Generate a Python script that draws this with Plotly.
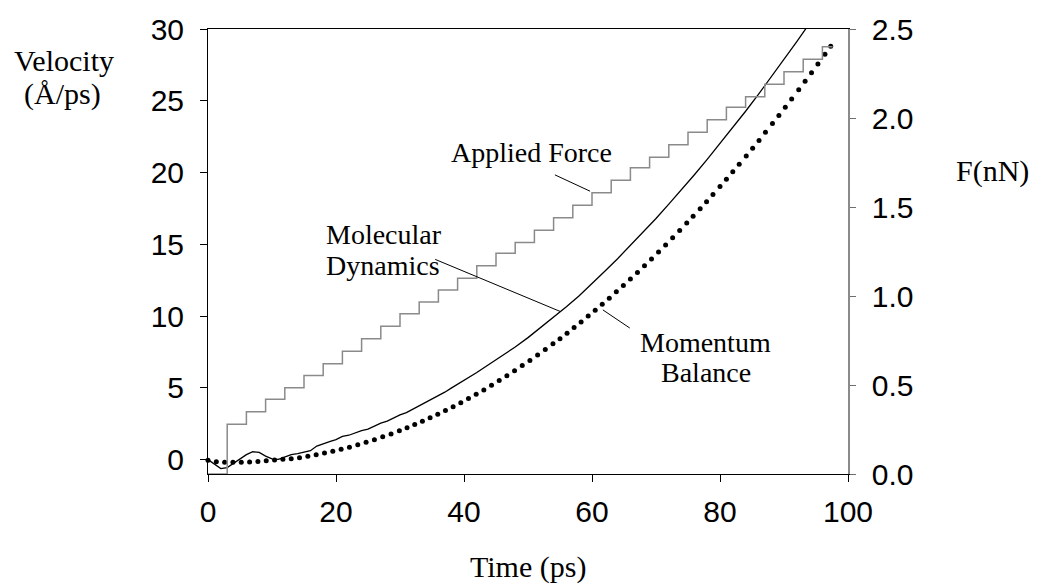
import plotly.graph_objects as go

# ---------------- data ----------------
# Applied force (nN), step function, right axis
force_time = [0, 3, 6, 9, 12, 15, 18, 21, 24, 27, 30, 33, 36, 39, 42, 45, 48,
              51, 54, 57, 60, 63, 66, 69, 72, 75, 78, 81, 84, 87, 90, 93, 96, 97.6]
force_nN = [0.0, 0.28, 0.35, 0.42, 0.485, 0.553, 0.62, 0.69, 0.76, 0.83, 0.90,
            0.966, 1.034, 1.10, 1.17, 1.24, 1.30, 1.37, 1.44, 1.51, 1.58, 1.65,
            1.72, 1.78, 1.85, 1.92, 1.99, 2.06, 2.12, 2.19, 2.26, 2.33, 2.40, 2.40]

# Molecular dynamics velocity (A/ps), left axis
md_time = [0, 1, 2, 3, 4, 5, 6, 7, 8, 9, 10, 11, 12, 13, 14, 15, 16, 17, 18, 19,
           20, 21, 22, 23, 24, 25, 26, 27, 28, 29, 30, 31, 32, 33, 34, 35, 36, 37,
           38, 39, 40, 42, 44, 46, 48, 50, 52, 54, 56, 58, 60, 62, 64, 66, 68, 70,
           72, 74, 76, 78, 80, 82, 84, 86, 88, 90, 92, 94]
md_velocity = [0.0, -0.3, -0.62, -0.55, -0.25, 0.05, 0.35, 0.55, 0.5, 0.25, 0.05,
               0.02, 0.2, 0.35, 0.42, 0.5, 0.62, 0.95, 1.12, 1.25, 1.4, 1.62, 1.7,
               1.88, 2.02, 2.12, 2.35, 2.55, 2.68, 2.9, 3.12, 3.28, 3.52, 3.75, 3.98,
               4.2, 4.45, 4.7, 4.98, 5.25, 5.5, 6.07, 6.66, 7.25, 7.85, 8.5, 9.2,
               9.92, 10.65, 11.42, 12.25, 13.12, 14.0, 14.92, 15.85, 16.8, 17.8,
               18.8, 19.85, 20.92, 22.02, 23.13, 24.27, 25.44, 26.64, 27.86, 29.12,
               30.4]

# Momentum balance velocity (A/ps), left axis
mb_time = [0, 1.3, 2.6, 3.9, 5.2, 6.5, 7.8, 9.1, 10.4, 11.7, 13.0, 14.3, 15.6,
           16.9, 18.2, 19.5, 20.8, 22.1, 23.4, 24.7, 26.0, 27.3, 28.6, 29.9,
           31.1, 32.3, 33.5, 34.7, 35.9, 37.1, 38.3, 39.5, 40.7, 41.9, 43.1, 44.3,
           45.5, 46.7, 47.9, 49.1, 50.3, 51.5, 52.7, 53.9,
           55.0, 56.1, 57.2, 58.3, 59.4, 60.5, 61.6, 62.7, 63.8, 64.9, 66.0, 67.1,
           68.2, 69.3, 70.4, 71.5, 72.6, 73.7, 74.8,
           75.8, 76.9, 77.9, 78.9, 80.0, 81.0, 82.0, 83.0, 84.1, 85.1, 86.1, 87.1,
           88.2, 89.2, 90.2, 91.2, 92.3, 93.3, 94.3, 95.3, 96.4, 97.3]
mb_velocity = [-0.05, -0.14, -0.18, -0.19, -0.18, -0.16, -0.13, -0.08, -0.03, 0.02,
               0.07, 0.14, 0.23, 0.34, 0.46, 0.58, 0.72, 0.87, 1.03, 1.21, 1.39,
               1.59, 1.79, 2.01,
               2.22, 2.44, 2.67, 2.91, 3.16, 3.42, 3.69, 3.97, 4.26, 4.56, 4.86,
               5.18, 5.51, 5.84, 6.19, 6.55, 6.91, 7.29, 7.67, 8.07,
               8.43, 8.81, 9.20, 9.59, 10.00, 10.41, 10.82, 11.25, 11.69, 12.13,
               12.58, 13.04, 13.51, 13.98, 14.46, 14.96, 15.45, 15.96, 16.48,
               16.95, 17.48, 17.97, 18.47, 19.03, 19.54, 20.05, 20.58, 21.16, 21.70,
               22.24, 22.80, 23.41, 23.98, 24.55, 25.13, 25.77, 26.36, 26.96, 27.57,
               28.24, 28.80]

x_ticks = [0, 20, 40, 60, 80, 100]
v_ticks = [0, 5, 10, 15, 20, 25, 30]
f_ticks = [0.0, 0.5, 1.0, 1.5, 2.0, 2.5]

# ---------------- figure ----------------
W, H = 1038, 584
L, R, T, B = 208, 190, 24, 110

SERIF = "Liberation Serif, Times New Roman, serif"
SANS = "Liberation Sans, Arial, sans-serif"

fig = go.Figure()

fig.add_trace(go.Scatter(x=force_time, y=force_nN, yaxis="y2", mode="lines",
                         line=dict(color="#8a8a8a", width=1.5, shape="hv"),
                         showlegend=False, hoverinfo="skip"))
fig.add_trace(go.Scatter(x=md_time, y=md_velocity, mode="lines",
                         line=dict(color="black", width=1.3),
                         showlegend=False, hoverinfo="skip"))
fig.add_trace(go.Scatter(x=mb_time, y=mb_velocity, mode="markers",
                         marker=dict(color="black", size=5, line=dict(width=0)),
                         showlegend=False, hoverinfo="skip", cliponaxis=False))

fig.update_layout(
    width=W, height=H,
    margin=dict(l=L, r=R, t=T, b=B, pad=0),
    paper_bgcolor="white", plot_bgcolor="white",
    font=dict(family=SANS, size=30, color="black"),
    xaxis=dict(range=[0, 100], tickvals=x_ticks, ticks="outside", ticklen=7,
               tickcolor="black", tickwidth=1, showline=True, linecolor="black",
               linewidth=1, mirror=True, showgrid=False, zeroline=False,
               tickfont=dict(family=SANS, size=30), ticklabelstandoff=4),
    yaxis=dict(range=[-1, 30], tickvals=v_ticks, ticks="outside", ticklen=7,
               tickcolor="black", tickwidth=1, showline=True, linecolor="black",
               linewidth=1, showgrid=False, zeroline=False,
               tickfont=dict(family=SANS, size=30), ticklabelstandoff=10),
    yaxis2=dict(range=[0, 2.5], tickvals=f_ticks, tickformat=".1f",
                overlaying="y", side="right", ticks="outside", ticklen=6,
                tickcolor="#6e6e6e", tickwidth=1, showline=True,
                linecolor="#8a8a8a", linewidth=1.5, showgrid=False,
                zeroline=False, tickfont=dict(family=SANS, size=30),
                ticklabelstandoff=10),
)

# axis titles
def ptext(text, x, y, size=30):
    fig.add_annotation(text=text, x=x, y=y, xref="paper", yref="paper",
                       showarrow=False, xanchor="center", yanchor="middle",
                       font=dict(family=SERIF, size=size, color="black"))

ptext("Velocity", -0.225, 0.930)
ptext("(Å/ps)", -0.227, 0.855)
ptext("F(nN)", 1.225, 0.682)
ptext("Time (ps)", 0.5, -0.208)

# curve labels (data coordinates)
def dtext(text, x, y, anchor="center"):
    fig.add_annotation(text=text, x=x, y=y, xref="x", yref="y",
                       showarrow=False, xanchor=anchor, yanchor="middle",
                       font=dict(family=SERIF, size=28, color="black"))

dtext("Applied Force", 50.5, 21.4)
dtext("Molecular", 18.1, 15.7, "left")
dtext("Dynamics", 18.1, 13.5, "left")
dtext("Momentum", 77.8, 8.13)
dtext("Balance", 77.8, 6.06)

# leader lines
for x0, y0, x1, y1 in [(54.2, 19.84, 59.7, 18.70),
                       (35.5, 13.95, 55.0, 10.33),
                       (61.7, 10.43, 65.9, 9.17)]:
    fig.add_shape(type="line", x0=x0, y0=y0, x1=x1, y1=y1, xref="x", yref="y",
                  line=dict(color="black", width=1))

fig.write_html("out.html")
